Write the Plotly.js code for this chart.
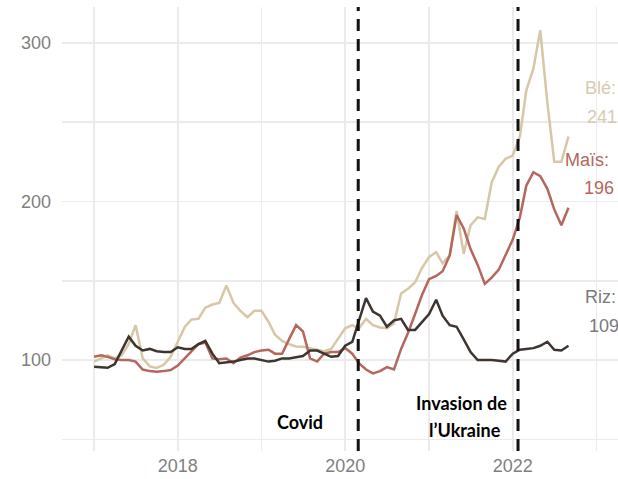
<!DOCTYPE html>
<html>
<head>
<meta charset="utf-8">
<script src="https://cdn.plot.ly/plotly-3.0.1.min.js"></script>
<style>
  html, body { margin: 0; padding: 0; background: #ffffff; }
  #chart { width: 618px; height: 479px; }
</style>
</head>
<body>
<div id="chart"></div>
<script>
// Monthly index values, Jan 2017 .. Sep 2022
const startYear = 2017;
const startMonth = 1;

const wheat = [99, 101, 103, 101, 103, 110, 122, 101, 96, 95, 97, 102,
  112, 121, 125.5, 126, 133, 135, 136, 147, 136, 131, 127, 131,
  131, 124, 116, 112, 110, 108.5, 108.4, 107.5, 106.5, 105.5, 107, 113,
  120, 122, 120, 126, 122, 120.5, 120, 123, 142, 145, 149, 158,
  165, 168, 161, 166, 194, 167, 185, 190, 189, 212, 222, 227,
  229, 241, 270, 284, 308, 262, 225, 225, 241];

const maize = [102, 103, 102, 100.5, 100, 100, 99, 94, 93, 92.6, 93, 93.7,
  96.5, 101, 105, 110, 111, 101, 100.5, 101, 98, 101.5, 103, 105,
  106, 106.5, 104, 104, 113, 122, 118, 101, 99, 104, 105, 105,
  107.5, 104, 98, 94, 91.6, 93, 95.5, 94, 107, 117, 129, 141,
  151, 153, 156, 166, 191.5, 183, 170, 160, 148, 152, 157, 166,
  176, 190, 210, 218.5, 216, 208, 195, 185, 196];

const rice = [95.8, 95.3, 95.1, 97.5, 106, 114.7, 109, 106, 107, 105.5, 105, 105,
  108, 107, 107, 110, 112, 104, 98, 98.5, 99, 100, 101, 101,
  100, 99, 99.5, 101, 101, 102, 102.5, 106, 106, 104, 102, 102.5,
  109, 111.5, 125, 139, 130.5, 128, 121, 125, 126, 119, 119, 124,
  129, 138, 128, 122, 121, 113, 105, 100, 100, 100, 99.5, 99,
  104, 106.5, 107, 107.5, 109, 111.5, 106.5, 106, 109];

const seriesNames = ['Blé', 'Maïs', 'Riz'];
const lastLabels = ['241', '196', '109'];
const yTickVals = [100, 200, 300];
const xTickLabels = ['2018', '2020', '2022'];
const events = ['Covid', 'Invasion de', 'l’Ukraine'];
const eventDates = ['2020-02-27', '2022-01-24'];

function monthDates(n) {
  const out = [];
  for (let i = 0; i < n; i++) {
    const m = startMonth - 1 + i;
    const y = startYear + Math.floor(m / 12);
    const mm = (m % 12) + 1;
    out.push(y + '-' + (mm < 10 ? '0' + mm : mm) + '-01');
  }
  return out;
}
const dates = monthDates(wheat.length);

const colWheat = '#d6c7a6';
const colMaize = '#b4675c';
const colRice = '#3e3531';

const traces = [
  { x: dates, y: wheat, name: seriesNames[0], type: 'scatter', mode: 'lines',
    line: { color: colWheat, width: 2.5 } },
  { x: dates, y: maize, name: seriesNames[1], type: 'scatter', mode: 'lines',
    line: { color: colMaize, width: 2.5 } },
  { x: dates, y: rice, name: seriesNames[2], type: 'scatter', mode: 'lines',
    line: { color: colRice, width: 2.5 } }
];

const gridCol = '#ebebeb';
const tickFont = { family: '"Liberation Sans", Arial, sans-serif', size: 18, color: '#7f7f7f' };
const labFont = (c) => ({ family: '"Liberation Sans", Arial, sans-serif', size: 18, color: c });
const evFont = { family: 'Lato, "Open Sans", sans-serif', size: 18, color: '#000000', weight: 'bold' };

const layout = {
  width: 618, height: 479,
  margin: { l: 62, r: 0, t: 7, b: 28 },
  paper_bgcolor: '#ffffff', plot_bgcolor: '#ffffff',
  showlegend: false,
  xaxis: {
    type: 'date',
    range: ['2016-08-14', '2023-04-05'],
    tickvals: xTickLabels.map(y => y + '-01-01'),
    ticktext: xTickLabels,
    showgrid: true, gridcolor: gridCol, gridwidth: 1.5,
    minor: { dtick: 'M12', tick0: '2017-01-01', showgrid: true, gridcolor: gridCol, gridwidth: 1.5 },
    zeroline: false, showline: false, ticks: '',
    tickfont: tickFont, ticklabelstandoff: 2
  },
  yaxis: {
    range: [42.6, 322.7],
    tickvals: yTickVals,
    showgrid: true, gridcolor: gridCol, gridwidth: 1.5,
    minor: { dtick: 50, tick0: 0, showgrid: true, gridcolor: gridCol, gridwidth: 1.5 },
    zeroline: false, showline: false, ticks: '',
    tickfont: tickFont, ticklabelstandoff: 10
  },
  shapes: eventDates.map(d => ({
    type: 'line', xref: 'x', yref: 'paper', x0: d, x1: d, y0: 0, y1: 1,
    line: { color: '#111111', width: 3, dash: '12px,8px' }
  })),
  annotations: [
    { xref: 'paper', yref: 'y', x: 0.937, y: 271.6, text: seriesNames[0] + ':', showarrow: false, xanchor: 'left', yanchor: 'middle', font: labFont('#d8cbb0') },
    { xref: 'paper', yref: 'y', x: 0.9406, y: 253.3, text: lastLabels[0], showarrow: false, xanchor: 'left', yanchor: 'middle', font: labFont('#d8cbb0') },
    { xref: 'paper', yref: 'y', x: 0.9011, y: 226.2, text: seriesNames[1] + ':', showarrow: false, xanchor: 'left', yanchor: 'middle', font: labFont('#b4675c') },
    { xref: 'paper', yref: 'y', x: 0.9353, y: 208.5, text: lastLabels[1], showarrow: false, xanchor: 'left', yanchor: 'middle', font: labFont('#b4675c') },
    { xref: 'paper', yref: 'y', x: 0.937, y: 139.7, text: seriesNames[2] + ':', showarrow: false, xanchor: 'left', yanchor: 'middle', font: labFont('#7a7a7a') },
    { xref: 'paper', yref: 'y', x: 0.9442, y: 121.5, text: lastLabels[2], showarrow: false, xanchor: 'left', yanchor: 'middle', font: labFont('#7a7a7a') },
    { xref: 'x', yref: 'y', x: '2019-06-16', y: 61.1, text: events[0], showarrow: false, xanchor: 'center', yanchor: 'middle', font: evFont },
    { xref: 'x', yref: 'y', x: '2021-05-22', y: 72.7, text: events[1], showarrow: false, xanchor: 'center', yanchor: 'middle', font: evFont },
    { xref: 'x', yref: 'y', x: '2021-06-05', y: 55.8, text: events[2], showarrow: false, xanchor: 'center', yanchor: 'middle', font: evFont }
  ]
};

Plotly.newPlot('chart', traces, layout, { staticPlot: true, displayModeBar: false });
</script>
</body>
</html>
